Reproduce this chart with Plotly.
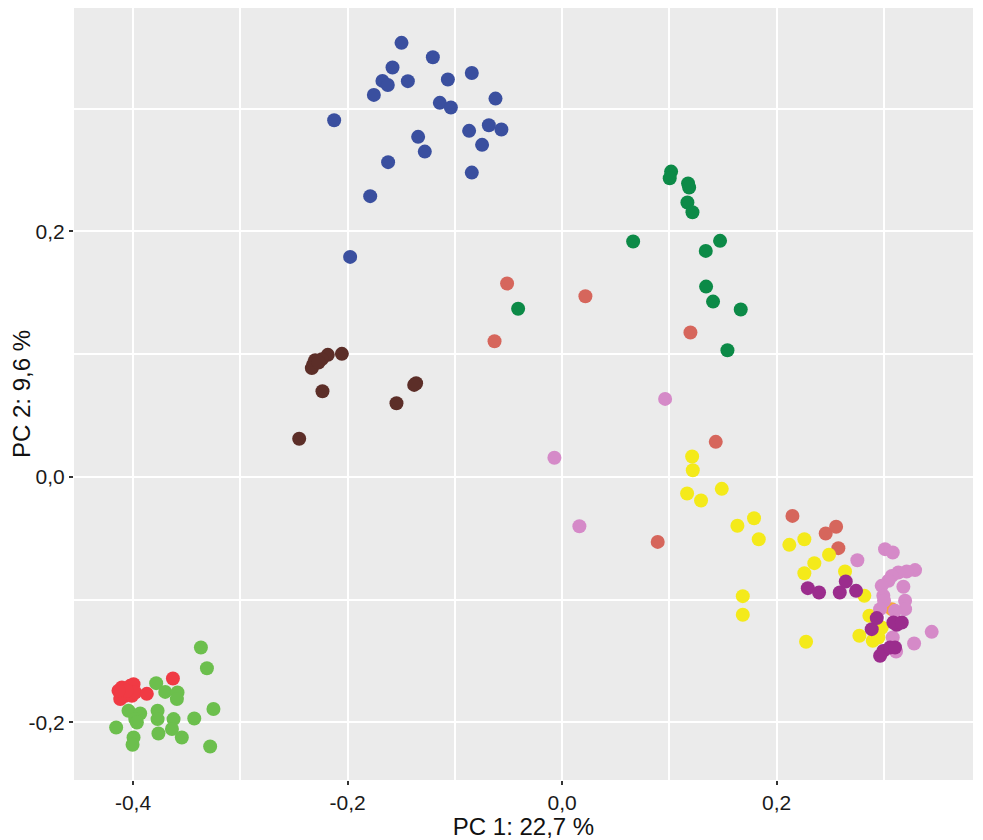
import plotly.graph_objects as go

# PCA scores per group
blue_x = [-0.1497, -0.1205, -0.1581, -0.0842, -0.1675, -0.1625, -0.1438, -0.1065, -0.1755, -0.0621,
          -0.1140, -0.1037, -0.2125, -0.0683, -0.0867, -0.0566, -0.1342, -0.0746, -0.1280, -0.1622,
          -0.0842, -0.1789, -0.1976]
blue_y = [0.3536, 0.3419, 0.3335, 0.3291, 0.3226, 0.3193, 0.3224, 0.3237, 0.3112, 0.3082,
          0.3047, 0.3009, 0.2906, 0.2865, 0.2819, 0.2830, 0.2770, 0.2705, 0.2650, 0.2564,
          0.2479, 0.2287, 0.1792]

brown_x = [-0.2053, -0.2184, -0.2240, -0.2302, -0.2318, -0.2333, -0.2271, -0.2234, -0.1361, -0.1379, -0.1544, -0.2451]
brown_y = [0.1002, 0.0994, 0.0959, 0.0951, 0.0918, 0.0886, 0.0932, 0.0698, 0.0763, 0.0749, 0.0600, 0.0310]

dkgreen_x = [-0.0410, 0.1016, 0.1003, 0.1174, 0.1184, 0.1168, 0.1215, 0.0662, 0.1472, 0.1339,
             0.1342, 0.1407, 0.1665, 0.1541]
dkgreen_y = [0.1369, 0.2487, 0.2433, 0.2390, 0.2357, 0.2235, 0.2156, 0.1917, 0.1923, 0.1841,
             0.1550, 0.1428, 0.1363, 0.1032]

salmon_x = [-0.0513, -0.0630, 0.0217, 0.1196, 0.1432, 0.0891, 0.2147, 0.2457, 0.2554, 0.2575]
salmon_y = [0.1575, 0.1105, 0.1472, 0.1176, 0.0285, -0.0530, -0.0318, -0.0462, -0.0407, -0.0581]

ltgreen_x = [-0.3367, -0.3311, -0.3784, -0.3700, -0.3585, -0.3591, -0.4042, -0.3933, -0.3979, -0.3964,
             -0.3771, -0.3771, -0.3622, -0.3637, -0.3429, -0.3250, -0.4157, -0.3995, -0.4004, -0.3763,
             -0.3545, -0.3281]
ltgreen_y = [-0.1391, -0.1559, -0.1681, -0.1752, -0.1757, -0.1811, -0.1906, -0.1928, -0.1974, -0.2001,
             -0.1906, -0.1974, -0.1974, -0.2055, -0.1969, -0.1892, -0.2042, -0.2124, -0.2183, -0.2091,
             -0.2124, -0.2197]

red_x = [-0.4104, -0.4026, -0.3995, -0.4073, -0.4119, -0.4010, -0.3980, -0.4057, -0.4135, -0.3871, -0.3628]
red_y = [-0.1716, -0.1703, -0.1689, -0.1784, -0.1811, -0.1784, -0.1757, -0.1743, -0.1743, -0.1768, -0.1643]

yellow_x = [0.1212, 0.1218, 0.1165, 0.1295, 0.1488, 0.1634, 0.1789, 0.1833, 0.1684, 0.1684,
            0.2118, 0.2258, 0.2488, 0.2351, 0.2258, 0.2637, 0.2817, 0.2274, 0.2864, 0.2771,
            0.2896, 0.2964, 0.2948, 0.2979]
yellow_y = [0.0166, 0.0054, -0.0136, -0.0193, -0.0098, -0.0399, -0.0337, -0.0508, -0.0972, -0.1124,
            -0.0554, -0.0508, -0.0635, -0.0703, -0.0785, -0.0771, -0.0969, -0.1344, -0.1132, -0.1295,
            -0.1336, -0.1241, -0.1309, -0.1228]

orange_x = [0.3073]
orange_y = [-0.1078]

pink_x = [0.0960, -0.0072, 0.0161, 0.3010, 0.3082, 0.2752, 0.3290, 0.3212, 0.3134, 0.3073,
          0.3042, 0.3181, 0.2979, 0.2994, 0.3197, 0.3001, 0.2964, 0.3197, 0.3103, 0.3445,
          0.3082, 0.3281, 0.3113]
pink_y = [0.0635, 0.0155, -0.0402, -0.0589, -0.0617, -0.0679, -0.0760, -0.0771, -0.0779, -0.0807,
          -0.0847, -0.0896, -0.0888, -0.0969, -0.1010, -0.1010, -0.1078, -0.1078, -0.1092, -0.1263,
          -0.1309, -0.1358, -0.1423]

purple_x = [0.2290, 0.2395, 0.2588, 0.2644, 0.2740, 0.3119, 0.3088, 0.3166, 0.2886, 0.2933,
            0.2994, 0.2964, 0.3057, 0.3103]
purple_y = [-0.0907, -0.0942, -0.0942, -0.0853, -0.0929, -0.1206, -0.1187, -0.1187, -0.1241, -0.1151,
            -0.1418, -0.1458, -0.1391, -0.1391]

x_tick_vals = [-0.4, -0.2, 0.0, 0.2]
x_tick_text = ["-0,4", "-0,2", "0,0", "0,2"]
x_minor_vals = [-0.3, -0.1, 0.1, 0.3]
y_tick_vals = [-0.2, 0.0, 0.2]
y_tick_text = ["-0,2", "0,0", "0,2"]
y_minor_vals = [-0.1, 0.1, 0.3]

groups = [
    (blue_x, blue_y, "#3A4F9F"),
    (brown_x, brown_y, "#5C2E28"),
    (dkgreen_x, dkgreen_y, "#0C8A47"),
    (salmon_x, salmon_y, "#D6665C"),
    (ltgreen_x, ltgreen_y, "#6CBF4D"),
    (red_x, red_y, "#F03A44"),
    (yellow_x, yellow_y, "#F4EA1A"),
    (orange_x, orange_y, "#F7A63A"),
    (pink_x, pink_y, "#D58AC8"),
    (purple_x, purple_y, "#9B2C8D"),
]

fig = go.Figure()
for gx, gy, col in groups:
    fig.add_trace(go.Scatter(
        x=gx, y=gy, mode="markers",
        marker=dict(color=col, size=14, line=dict(width=0)),
        showlegend=False))

axis_font = dict(family="Liberation Sans, Arial, sans-serif", size=21, color="#1a1a1a")
title_font = dict(family="Liberation Sans, Arial, sans-serif", size=24, color="#111")

# page body has an 8px margin, so the figure is a bit smaller than the window
fig.update_layout(
    width=975, height=832,
    margin=dict(l=66, r=10, t=0, b=60),
    paper_bgcolor="white",
    plot_bgcolor="#EBEBEB",
    xaxis=dict(
        range=[-0.455, 0.383], tickvals=x_tick_vals, ticktext=x_tick_text,
        showgrid=True, gridcolor="white", gridwidth=2, zeroline=False,
        ticks="outside", ticklen=4, tickwidth=1.5, tickcolor="#333",
        tickfont=axis_font, automargin=False,
        minor=dict(tickvals=x_minor_vals, showgrid=True, gridcolor="white", gridwidth=1.5, ticks=""),
        title=dict(text="PC 1: 22,7 %", font=title_font, standoff=2)),
    yaxis=dict(
        range=[-0.247, 0.382], tickvals=y_tick_vals, ticktext=y_tick_text,
        showgrid=True, gridcolor="white", gridwidth=2, zeroline=False,
        ticks="outside", ticklen=4, tickwidth=1.5, tickcolor="#333",
        tickfont=axis_font, automargin=False,
        minor=dict(tickvals=y_minor_vals, showgrid=True, gridcolor="white", gridwidth=1.5, ticks=""),
        title=dict(text="PC 2: 9,6 %", font=title_font, standoff=13)),
)

fig.write_html("out.html")
